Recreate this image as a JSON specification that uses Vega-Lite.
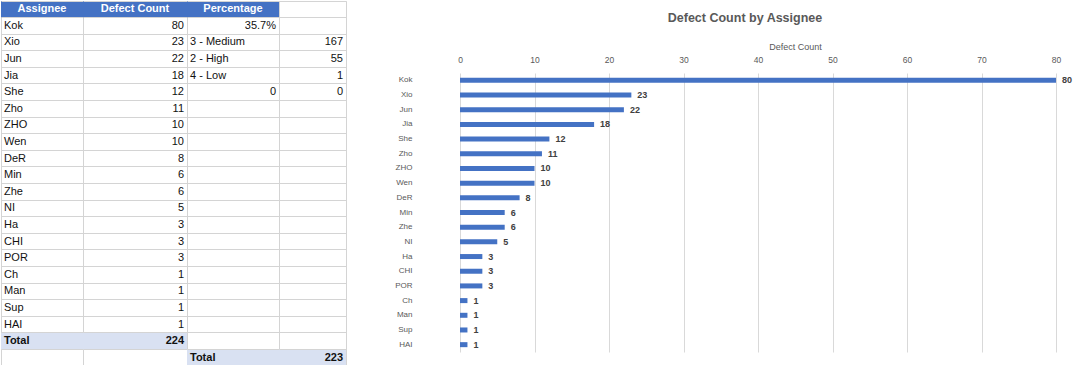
{
  "$schema": "https://vega.github.io/schema/vega-lite/v6.json",
  "padding": 0,
  "spacing": 0,
  "background": "white",
  "config": {"view": {"stroke": null}, "font": "Liberation Sans", "concat": {"spacing": 0}},
  "datasets": {
    "assignees": [
      {"name": "Kok", "count": 80}, {"name": "Xio", "count": 23}, {"name": "Jun", "count": 22},
      {"name": "Jia", "count": 18}, {"name": "She", "count": 12}, {"name": "Zho", "count": 11},
      {"name": "ZHO", "count": 10}, {"name": "Wen", "count": 10}, {"name": "DeR", "count": 8},
      {"name": "Min", "count": 6}, {"name": "Zhe", "count": 6}, {"name": "NI", "count": 5},
      {"name": "Ha", "count": 3}, {"name": "CHI", "count": 3}, {"name": "POR", "count": 3},
      {"name": "Ch", "count": 1}, {"name": "Man", "count": 1}, {"name": "Sup", "count": 1},
      {"name": "HAI", "count": 1}
    ],
    "cells": [
      {"row": 0, "col": "A", "value": "Assignee", "kind": "header"},
      {"row": 0, "col": "B", "value": "Defect Count", "kind": "header"},
      {"row": 0, "col": "C", "value": "Percentage", "kind": "header"},
      {"row": 1, "col": "A", "value": "Kok", "kind": "label"}, {"row": 1, "col": "B", "value": "80", "kind": "number"},
      {"row": 2, "col": "A", "value": "Xio", "kind": "label"}, {"row": 2, "col": "B", "value": "23", "kind": "number"},
      {"row": 3, "col": "A", "value": "Jun", "kind": "label"}, {"row": 3, "col": "B", "value": "22", "kind": "number"},
      {"row": 4, "col": "A", "value": "Jia", "kind": "label"}, {"row": 4, "col": "B", "value": "18", "kind": "number"},
      {"row": 5, "col": "A", "value": "She", "kind": "label"}, {"row": 5, "col": "B", "value": "12", "kind": "number"},
      {"row": 6, "col": "A", "value": "Zho", "kind": "label"}, {"row": 6, "col": "B", "value": "11", "kind": "number"},
      {"row": 7, "col": "A", "value": "ZHO", "kind": "label"}, {"row": 7, "col": "B", "value": "10", "kind": "number"},
      {"row": 8, "col": "A", "value": "Wen", "kind": "label"}, {"row": 8, "col": "B", "value": "10", "kind": "number"},
      {"row": 9, "col": "A", "value": "DeR", "kind": "label"}, {"row": 9, "col": "B", "value": "8", "kind": "number"},
      {"row": 10, "col": "A", "value": "Min", "kind": "label"}, {"row": 10, "col": "B", "value": "6", "kind": "number"},
      {"row": 11, "col": "A", "value": "Zhe", "kind": "label"}, {"row": 11, "col": "B", "value": "6", "kind": "number"},
      {"row": 12, "col": "A", "value": "NI", "kind": "label"}, {"row": 12, "col": "B", "value": "5", "kind": "number"},
      {"row": 13, "col": "A", "value": "Ha", "kind": "label"}, {"row": 13, "col": "B", "value": "3", "kind": "number"},
      {"row": 14, "col": "A", "value": "CHI", "kind": "label"}, {"row": 14, "col": "B", "value": "3", "kind": "number"},
      {"row": 15, "col": "A", "value": "POR", "kind": "label"}, {"row": 15, "col": "B", "value": "3", "kind": "number"},
      {"row": 16, "col": "A", "value": "Ch", "kind": "label"}, {"row": 16, "col": "B", "value": "1", "kind": "number"},
      {"row": 17, "col": "A", "value": "Man", "kind": "label"}, {"row": 17, "col": "B", "value": "1", "kind": "number"},
      {"row": 18, "col": "A", "value": "Sup", "kind": "label"}, {"row": 18, "col": "B", "value": "1", "kind": "number"},
      {"row": 19, "col": "A", "value": "HAI", "kind": "label"}, {"row": 19, "col": "B", "value": "1", "kind": "number"},
      {"row": 20, "col": "A", "value": "Total", "kind": "totalLabel"}, {"row": 20, "col": "B", "value": "224", "kind": "totalNumber"},
      {"row": 1, "col": "C", "value": "35.7%", "kind": "number"},
      {"row": 2, "col": "C", "value": "3 - Medium", "kind": "label"}, {"row": 2, "col": "D", "value": "167", "kind": "number"},
      {"row": 3, "col": "C", "value": "2 - High", "kind": "label"}, {"row": 3, "col": "D", "value": "55", "kind": "number"},
      {"row": 4, "col": "C", "value": "4 - Low", "kind": "label"}, {"row": 4, "col": "D", "value": "1", "kind": "number"},
      {"row": 5, "col": "C", "value": "0", "kind": "number"}, {"row": 5, "col": "D", "value": "0", "kind": "number"},
      {"row": 21, "col": "C", "value": "Total", "kind": "totalLabel"}, {"row": 21, "col": "D", "value": "223", "kind": "totalNumber"}
    ]
  },
  "hconcat": [
    {
      "bounds": "flush",
      "spacing": 0,
      "hconcat": [
        {
          "width": 82, "height": 365,
          "view": {"stroke": "#d4d4d4"},
          "data": {"name": "cells"},
          "transform": [{"filter": "datum.col === 'A'"}],
          "encoding": {"y": {"field": "row", "type": "ordinal", "scale": {"domain": [0,1,2,3,4,5,6,7,8,9,10,11,12,13,14,15,16,17,18,19,20,21], "paddingInner": 0, "paddingOuter": 0}, "axis": {"labels": false, "ticks": false, "domain": false, "title": null, "grid": true, "gridColor": "#d4d4d4", "bandPosition": 0, "minExtent": 0, "maxExtent": 0}}},
          "layer": [
            {"transform": [{"filter": "datum.kind === 'header'"}], "mark": {"type": "rect", "color": "#4472C4"}, "encoding": {"x": {"datum": 0, "type": "quantitative", "scale": {"domain": [0, 1], "nice": false, "zero": false}, "axis": null}, "x2": {"datum": 1}}},
            {"transform": [{"filter": "datum.kind === 'totalLabel' || datum.kind === 'totalNumber'"}], "mark": {"type": "rect", "color": "#D9E1F2"}, "encoding": {"x": {"datum": 0, "type": "quantitative", "scale": {"domain": [0, 1], "nice": false, "zero": false}, "axis": null}, "x2": {"datum": 1}}},
            {"transform": [{"filter": "datum.kind === 'header'"}], "mark": {"type": "text", "align": "center", "fontWeight": "bold", "fontSize": 11, "color": "white"}, "encoding": {"x": {"datum": 0.5, "type": "quantitative", "scale": {"domain": [0, 1], "nice": false, "zero": false}, "axis": null}, "text": {"field": "value"}}},
            {"transform": [{"filter": "datum.kind === 'label'"}], "mark": {"type": "text", "align": "left", "dx": 3, "fontSize": 11, "color": "#111111"}, "encoding": {"x": {"datum": 0, "type": "quantitative", "scale": {"domain": [0, 1], "nice": false, "zero": false}, "axis": null}, "text": {"field": "value"}}},
            {"transform": [{"filter": "datum.kind === 'totalLabel'"}], "mark": {"type": "text", "align": "left", "dx": 3, "fontSize": 11, "fontWeight": "bold", "color": "#111111"}, "encoding": {"x": {"datum": 0, "type": "quantitative", "scale": {"domain": [0, 1], "nice": false, "zero": false}, "axis": null}, "text": {"field": "value"}}}
          ]
        },
        {
          "width": 104, "height": 365,
          "view": {"stroke": "#d4d4d4"},
          "data": {"name": "cells"},
          "transform": [{"filter": "datum.col === 'B'"}],
          "encoding": {"y": {"field": "row", "type": "ordinal", "scale": {"domain": [0,1,2,3,4,5,6,7,8,9,10,11,12,13,14,15,16,17,18,19,20,21], "paddingInner": 0, "paddingOuter": 0}, "axis": {"labels": false, "ticks": false, "domain": false, "title": null, "grid": true, "gridColor": "#d4d4d4", "bandPosition": 0, "minExtent": 0, "maxExtent": 0}}},
          "layer": [
            {"transform": [{"filter": "datum.kind === 'header'"}], "mark": {"type": "rect", "color": "#4472C4"}, "encoding": {"x": {"datum": 0, "type": "quantitative", "scale": {"domain": [0, 1], "nice": false, "zero": false}, "axis": null}, "x2": {"datum": 1}}},
            {"transform": [{"filter": "datum.kind === 'totalLabel' || datum.kind === 'totalNumber'"}], "mark": {"type": "rect", "color": "#D9E1F2"}, "encoding": {"x": {"datum": 0, "type": "quantitative", "scale": {"domain": [0, 1], "nice": false, "zero": false}, "axis": null}, "x2": {"datum": 1}}},
            {"transform": [{"filter": "datum.kind === 'header'"}], "mark": {"type": "text", "align": "center", "fontWeight": "bold", "fontSize": 11, "color": "white"}, "encoding": {"x": {"datum": 0.5, "type": "quantitative", "scale": {"domain": [0, 1], "nice": false, "zero": false}, "axis": null}, "text": {"field": "value"}}},
            {"transform": [{"filter": "datum.kind === 'number'"}], "mark": {"type": "text", "align": "right", "dx": -3, "fontSize": 11, "color": "#111111"}, "encoding": {"x": {"datum": 1, "type": "quantitative", "scale": {"domain": [0, 1], "nice": false, "zero": false}, "axis": null}, "text": {"field": "value"}}},
            {"transform": [{"filter": "datum.kind === 'totalNumber'"}], "mark": {"type": "text", "align": "right", "dx": -3, "fontSize": 11, "fontWeight": "bold", "color": "#111111"}, "encoding": {"x": {"datum": 1, "type": "quantitative", "scale": {"domain": [0, 1], "nice": false, "zero": false}, "axis": null}, "text": {"field": "value"}}}
          ]
        },
        {
          "width": 92, "height": 365,
          "view": {"stroke": "#d4d4d4"},
          "data": {"name": "cells"},
          "transform": [{"filter": "datum.col === 'C'"}],
          "encoding": {"y": {"field": "row", "type": "ordinal", "scale": {"domain": [0,1,2,3,4,5,6,7,8,9,10,11,12,13,14,15,16,17,18,19,20,21], "paddingInner": 0, "paddingOuter": 0}, "axis": {"labels": false, "ticks": false, "domain": false, "title": null, "grid": true, "gridColor": "#d4d4d4", "bandPosition": 0, "minExtent": 0, "maxExtent": 0}}},
          "layer": [
            {"transform": [{"filter": "datum.kind === 'header'"}], "mark": {"type": "rect", "color": "#4472C4"}, "encoding": {"x": {"datum": 0, "type": "quantitative", "scale": {"domain": [0, 1], "nice": false, "zero": false}, "axis": null}, "x2": {"datum": 1}}},
            {"transform": [{"filter": "datum.kind === 'totalLabel' || datum.kind === 'totalNumber'"}], "mark": {"type": "rect", "color": "#D9E1F2"}, "encoding": {"x": {"datum": 0, "type": "quantitative", "scale": {"domain": [0, 1], "nice": false, "zero": false}, "axis": null}, "x2": {"datum": 1}}},
            {"transform": [{"filter": "datum.kind === 'header'"}], "mark": {"type": "text", "align": "center", "fontWeight": "bold", "fontSize": 11, "color": "white"}, "encoding": {"x": {"datum": 0.5, "type": "quantitative", "scale": {"domain": [0, 1], "nice": false, "zero": false}, "axis": null}, "text": {"field": "value"}}},
            {"transform": [{"filter": "datum.kind === 'label'"}], "mark": {"type": "text", "align": "left", "dx": 3, "fontSize": 11, "color": "#111111"}, "encoding": {"x": {"datum": 0, "type": "quantitative", "scale": {"domain": [0, 1], "nice": false, "zero": false}, "axis": null}, "text": {"field": "value"}}},
            {"transform": [{"filter": "datum.kind === 'number'"}], "mark": {"type": "text", "align": "right", "dx": -3, "fontSize": 11, "color": "#111111"}, "encoding": {"x": {"datum": 1, "type": "quantitative", "scale": {"domain": [0, 1], "nice": false, "zero": false}, "axis": null}, "text": {"field": "value"}}},
            {"transform": [{"filter": "datum.kind === 'totalLabel'"}], "mark": {"type": "text", "align": "left", "dx": 3, "fontSize": 11, "fontWeight": "bold", "color": "#111111"}, "encoding": {"x": {"datum": 0, "type": "quantitative", "scale": {"domain": [0, 1], "nice": false, "zero": false}, "axis": null}, "text": {"field": "value"}}}
          ]
        },
        {
          "width": 67, "height": 365,
          "view": {"stroke": "#d4d4d4"},
          "data": {"name": "cells"},
          "transform": [{"filter": "datum.col === 'D'"}],
          "encoding": {"y": {"field": "row", "type": "ordinal", "scale": {"domain": [0,1,2,3,4,5,6,7,8,9,10,11,12,13,14,15,16,17,18,19,20,21], "paddingInner": 0, "paddingOuter": 0}, "axis": {"labels": false, "ticks": false, "domain": false, "title": null, "grid": true, "gridColor": "#d4d4d4", "bandPosition": 0, "minExtent": 0, "maxExtent": 0}}},
          "layer": [
            {"transform": [{"filter": "datum.kind === 'totalLabel' || datum.kind === 'totalNumber'"}], "mark": {"type": "rect", "color": "#D9E1F2"}, "encoding": {"x": {"datum": 0, "type": "quantitative", "scale": {"domain": [0, 1], "nice": false, "zero": false}, "axis": null}, "x2": {"datum": 1}}},
            {"transform": [{"filter": "datum.kind === 'number'"}], "mark": {"type": "text", "align": "right", "dx": -3, "fontSize": 11, "color": "#111111"}, "encoding": {"x": {"datum": 1, "type": "quantitative", "scale": {"domain": [0, 1], "nice": false, "zero": false}, "axis": null}, "text": {"field": "value"}}},
            {"transform": [{"filter": "datum.kind === 'totalNumber'"}], "mark": {"type": "text", "align": "right", "dx": -3, "fontSize": 11, "fontWeight": "bold", "color": "#111111"}, "encoding": {"x": {"datum": 1, "type": "quantitative", "scale": {"domain": [0, 1], "nice": false, "zero": false}, "axis": null}, "text": {"field": "value"}}}
          ]
        }
      ]
    },
    {
      "spacing": 0,
      "vconcat": [
        {
          "width": 1, "height": 0.001,
          "data": {"values": []},
          "mark": {"type": "point", "opacity": 0},
          "encoding": {}
        },
        {
          "width": 596, "height": 279,
          "data": {"name": "assignees"},
          "title": {"text": ["", "Defect Count by Assignee"], "fontSize": 12.5, "fontWeight": "bold", "color": "#595959", "lineHeight": 9.5, "frame": "group", "anchor": "middle", "dx": -13, "offset": 18},
          "encoding": {"y": {"field": "name", "type": "nominal", "sort": null, "scale": {"paddingInner": 0, "paddingOuter": 0}, "axis": {"title": null, "domain": false, "ticks": false, "tickSize": 0, "labelPadding": 48, "labelColor": "#595959", "labelFontSize": 8, "minExtent": 113, "maxExtent": 113, "grid": false}}},
          "layer": [
            {"mark": {"type": "bar", "color": "#4472C4", "size": 5}, "encoding": {"x": {"field": "count", "type": "quantitative", "scale": {"domain": [0, 80], "nice": false}, "axis": {"orient": "top", "values": [0, 10, 20, 30, 40, 50, 60, 70, 80], "grid": true, "gridColor": "#d9d9d9", "domain": false, "ticks": false, "tickSize": 0, "labelPadding": 9, "labelColor": "#595959", "labelFontSize": 8.5, "labelFlush": false, "title": "Defect Count", "titleFontSize": 9, "titleFontWeight": "normal", "titleColor": "#595959", "titlePadding": 6, "minExtent": 16, "maxExtent": 16, "titleX": 335}}}},
            {"mark": {"type": "text", "align": "left", "dx": 6, "fontWeight": "bold", "fontSize": 9, "color": "#404040"}, "encoding": {"x": {"field": "count", "type": "quantitative"}, "text": {"field": "count"}}}
          ]
        }
      ]
    }
  ]
}
